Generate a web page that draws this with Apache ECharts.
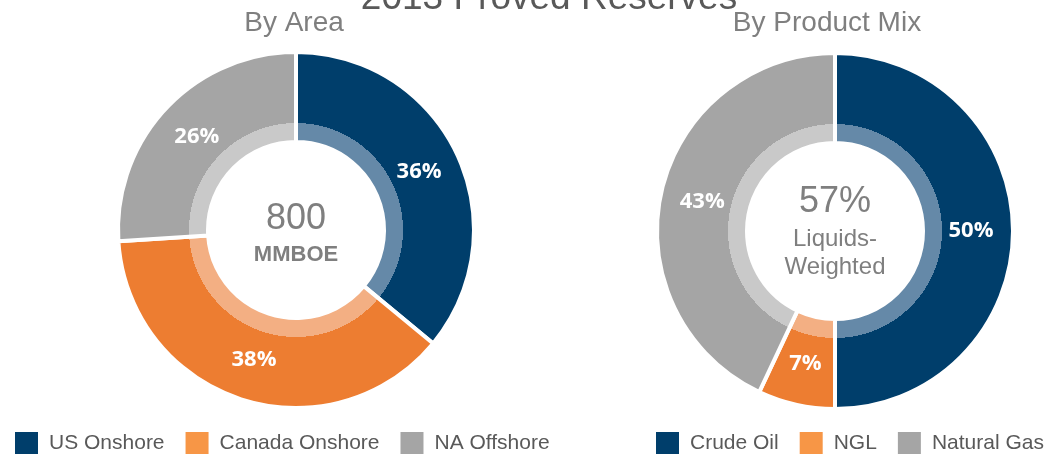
<!DOCTYPE html>
<html>
<head>
<meta charset="utf-8">
<script src="https://cdn.jsdelivr.net/npm/echarts@6/dist/echarts.min.js"></script>
<style>
  html, body { margin: 0; padding: 0; background: #fff; }
  #chart { width: 1046px; height: 455px; }
</style>
</head>
<body>
<div id="chart"></div>
<script>
const areaNames = ['US Onshore', 'Canada Onshore', 'NA Offshore']
const areaShares = [36, 38, 26]
const mixNames = ['Crude Oil', 'NGL', 'Natural Gas']
const mixShares = [50, 7, 43]
const centerValues = ['800', '57%']
const centerUnits = ['MMBOE', 'Liquids-\nWeighted']

const darkColors = ['#003e6b', '#ed7d31', '#a5a5a5']
const lightColors = ['#6589a8', '#f3af83', '#c9c9c9']
const legendColors = ['#003e6b', '#f79646', '#a5a5a5']

const FONT = 'Liberation Sans, Arial, sans-serif'
const R_IN = 88
const R_SPLIT = 107
const R_OUT = 178
const centers = [[296, 230], [835, 231]]

// two-tone ring: lighter inner band, darker outer band
function ringColor(i, c) {
  const cut = R_SPLIT / R_OUT
  return {
    type: 'radial', x: c[0], y: c[1], r: R_OUT, global: true,
    colorStops: [
      { offset: 0, color: lightColors[i] },
      { offset: cut, color: lightColors[i] },
      { offset: cut, color: darkColors[i] },
      { offset: 1, color: darkColors[i] }
    ]
  }
}

function donut(names, values, c) {
  return {
    type: 'pie',
    radius: [R_IN, R_OUT],
    center: c,
    startAngle: 90,
    clockwise: true,
    avoidLabelOverlap: false,
    silent: true,
    label: {
      show: true,
      position: 'inside',
      formatter: '{c}%',
      color: '#fff',
      fontFamily: 'Open Sans, sans-serif',
      fontWeight: 'bold',
      fontSize: 22
    },
    labelLine: { show: false },
    itemStyle: { borderColor: '#fff', borderWidth: 4 },
    data: names.map((n, i) => ({ name: n, value: values[i], itemStyle: { color: ringColor(i, c) } }))
  }
}

function legend(names, left, width) {
  return {
    left: left,
    top: 430,
    width: width,
    padding: 0,
    itemWidth: 25,
    itemHeight: 24,
    itemGap: 19,
    icon: 'rect',
    selectedMode: false,
    textStyle: { fontFamily: FONT, fontSize: 21, color: '#595959', padding: [0, 0, 0, 5] },
    data: names.map((n, i) => ({ name: n, itemStyle: { color: legendColors[i] } }))
  }
}

function text(t, x, top, size, weight, lineHeight) {
  return {
    text: t,
    left: x,
    top: top,
    textAlign: 'center',
    padding: 0,
    textStyle: {
      fontFamily: FONT, fontSize: size, fontWeight: weight || 'normal',
      lineHeight: lineHeight || size, color: '#7f7f7f'
    }
  }
}

const mainTitle = text('2013 Proved Reserves', 549, -20, 37)
mainTitle.textStyle.color = '#595959'

const chart = echarts.init(document.getElementById('chart'))
chart.setOption({
  animation: false,
  title: [
    mainTitle,
    text('By Area', 294, 9, 28),
    text('By Product Mix', 827, 9, 28),
    text(centerValues[0], 296, 201, 36),
    text(centerUnits[0], 296, 244, 22, 'bold'),
    text(centerValues[1], 835, 184, 36),
    text(centerUnits[1], 835, 225, 24, 'normal', 28)
  ],
  legend: [legend(areaNames, 13, 600), legend(mixNames, 654, 400)],
  series: [
    donut(areaNames, areaShares, centers[0]),
    donut(mixNames, mixShares, centers[1])
  ]
})
</script>
</body>
</html>
